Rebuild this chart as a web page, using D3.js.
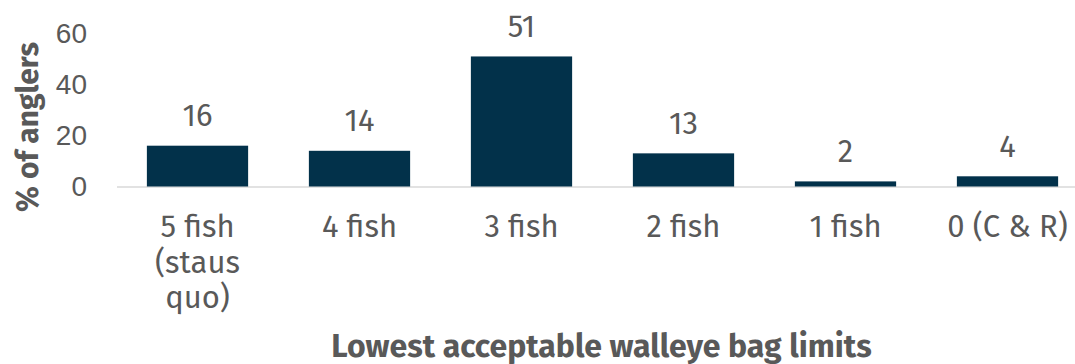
<!DOCTYPE html>
<html>
<head>
<meta charset="utf-8">
<script src="https://cdn.jsdelivr.net/npm/d3@7"></script>
<style>
  html, body { margin: 0; padding: 0; background: #fff; }
  svg { display: block; font-family: "Fira Sans", "Open Sans", "Noto Sans", sans-serif; }
</style>
</head>
<body>
<svg id="chart" width="1075" height="364"></svg>
<script>
// Bag-limit categories (multi-line labels split on "\n")
const categories = ["5 fish\n(staus\nquo)", "4 fish", "3 fish", "2 fish", "1 fish", "0 (C & R)"];
// Percent of anglers choosing each limit
const values = [16, 14, 51, 13, 2, 4];
const yTicks = [0, 20, 40, 60];

const svg = d3.select("#chart");
const textColor = "#595959";
const barColor = "#02314a";

const x = d3.scaleBand()
  .domain(categories)
  .range([116.5, 1088.5])
  .paddingInner(0.375)
  .paddingOuter(0.1875);

const y = d3.scaleLinear()
  .domain([0, 60])
  .range([186.5, 33.5]);

// Baseline
svg.append("line")
  .attr("x1", 117).attr("x2", 1075)
  .attr("y1", y(0) + 0.5).attr("y2", y(0) + 0.5)
  .attr("stroke", "#d9d9d9").attr("stroke-width", 1.5);

// Y axis tick labels
const yAxis = d3.axisLeft(y).tickValues(yTicks).tickSize(0).tickPadding(0);
const gy = svg.append("g").attr("transform", "translate(87,0)").call(yAxis);
gy.select(".domain").remove();
gy.selectAll("text")
  .attr("fill", textColor)
  .style("font-size", "28px")
  .attr("font-family", null);

// Bars
svg.selectAll("rect.bar")
  .data(values)
  .join("rect")
  .attr("class", "bar")
  .attr("x", (d, i) => x(categories[i]))
  .attr("width", x.bandwidth())
  .attr("y", d => y(d))
  .attr("height", d => y(0) - y(d))
  .attr("fill", barColor);

// Value labels
svg.selectAll("text.val")
  .data(values)
  .join("text")
  .attr("class", "val")
  .attr("x", (d, i) => x(categories[i]) + x.bandwidth() / 2)
  .attr("y", d => y(d) - 19.5)
  .attr("text-anchor", "middle")
  .attr("fill", textColor)
  .style("font-size", "31px")
  .text(d => d);

// Category labels
const cat = svg.selectAll("text.cat")
  .data(categories)
  .join("text")
  .attr("class", "cat")
  .attr("text-anchor", "middle")
  .attr("fill", textColor)
  .style("font-size", "31px")
  .attr("transform", d => `translate(${x(d) + x.bandwidth() / 2},237)`);
cat.each(function(d) {
  const t = d3.select(this);
  d.split("\n").forEach((line, k) => {
    t.append("tspan").attr("x", 0).attr("y", k * 35.5).text(line);
  });
});

// Axis titles
svg.append("text")
  .attr("x", 601.5).attr("y", 357)
  .attr("text-anchor", "middle")
  .attr("fill", textColor)
  .style("font-size", "32px")
  .style("font-weight", "bold")
  .text("Lowest acceptable walleye bag limits");

svg.append("text")
  .attr("transform", "translate(38,127) rotate(-90)")
  .attr("text-anchor", "middle")
  .attr("fill", textColor)
  .style("font-size", "30px")
  .style("font-weight", "bold")
  .text("% of anglers");
</script>
</body>
</html>
